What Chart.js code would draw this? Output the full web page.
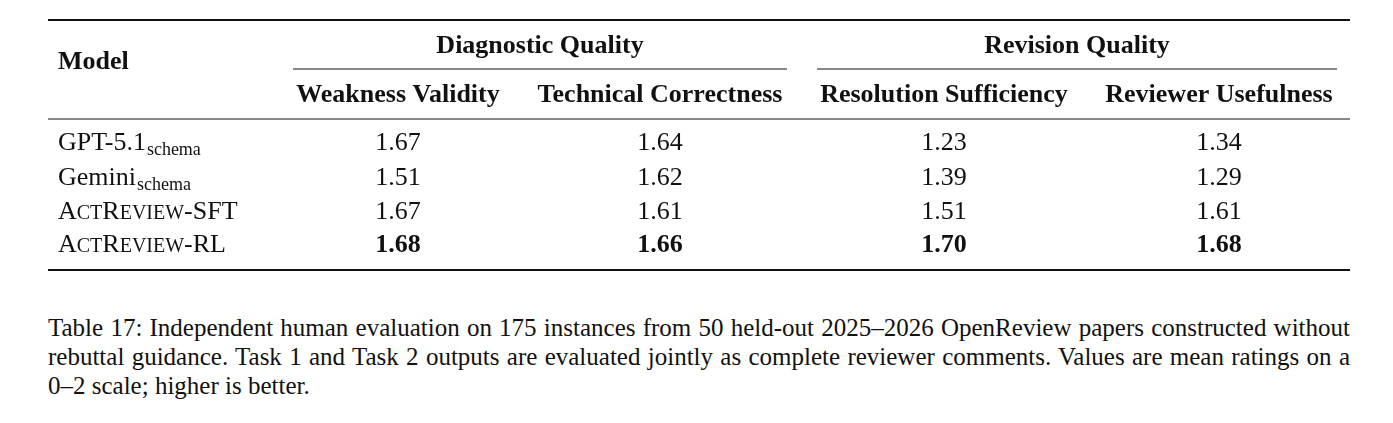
<!DOCTYPE html>
<html><head><meta charset="utf-8">
<script src="https://cdn.jsdelivr.net/npm/chart.js@4"></script>
<style>
body{margin:0;background:#fff;width:1393px;height:423px;overflow:hidden;position:relative}
#wrap{position:absolute;left:0;top:0;width:1393px;height:290px}
#cap{position:absolute;left:48px;top:313px;width:1302px;font:25px "Liberation Serif",serif;line-height:29px;text-align:justify;color:#111}
</style></head><body>
<div id="wrap"><canvas id="c"></canvas></div>
<div id="cap">Table 17: Independent human evaluation on 175 instances from 50 held-out 2025–2026 OpenReview papers constructed without rebuttal guidance. Task 1 and Task 2 outputs are evaluated jointly as complete reviewer comments. Values are mean ratings on a 0–2 scale; higher is better.</div>
<script>
// table content
const groups = ['Diagnostic Quality', 'Revision Quality'];
const columns = ['Weakness Validity', 'Technical Correctness', 'Resolution Sufficiency', 'Reviewer Usefulness'];
const models = ['GPT-5.1|schema', 'Gemini|schema', 'ACTREVIEW-SFT', 'ACTREVIEW-RL'];
const weaknessValidity = [1.67, 1.51, 1.67, 1.68];
const technicalCorrectness = [1.64, 1.62, 1.61, 1.66];
const resolutionSufficiency = [1.23, 1.39, 1.51, 1.70];
const reviewerUsefulness = [1.34, 1.29, 1.61, 1.68];
const series = [weaknessValidity, technicalCorrectness, resolutionSufficiency, reviewerUsefulness];

// layout (pixel units of the hidden linear scales)
const colX = [398, 660, 944, 1219];
const rowY = [143, 178, 212, 245];
const F = '"Liberation Serif", serif';
const FS = 26;

function best(vals) { return Math.max(...vals); }

function drawModel(ctx, name, x, y) {
  ctx.textAlign = 'left';
  if (name.includes('|')) {
    const [a, sub] = name.split('|');
    ctx.font = FS + 'px ' + F;
    ctx.fillText(a, x, y);
    const w = ctx.measureText(a).width;
    ctx.font = '18px ' + F;
    ctx.fillText(sub, x + w + 1, y + 7);
    return;
  }
  // small caps for ActReview
  const parts = [['A', 1], ['CT', 0], ['R', 1], ['EVIEW', 0], [name.slice(9), 1]];
  let cx = x;
  parts.forEach(([t, big]) => {
    ctx.font = (big ? FS + 'px ' : '20px ') + F;
    ctx.fillText(t, cx, y + (big ? 0 : 1.5));
    cx += ctx.measureText(t).width;
  });
}

const tablePlugin = {
  id: 'table',
  afterDraw(chart) {
    const ctx = chart.ctx, xs = chart.scales.x, ys = chart.scales.y;
    const X = v => xs.getPixelForValue(v), Y = v => ys.getPixelForValue(v);
    ctx.save();
    ctx.fillStyle = '#111'; ctx.strokeStyle = '#111';
    ctx.textBaseline = 'middle';
    const rule = (x1, x2, y, w) => { ctx.lineWidth = w; ctx.beginPath(); ctx.moveTo(X(x1), Y(y)); ctx.lineTo(X(x2), Y(y)); ctx.stroke(); };
    rule(48, 1350, 20, 2);
    rule(293, 787, 69, 1);
    rule(817, 1337, 69, 1);
    rule(48, 1350, 119, 1.2);
    rule(48, 1350, 270, 2);

    ctx.font = 'bold ' + FS + 'px ' + F;
    ctx.textAlign = 'left';
    ctx.fillText('Model', X(58), Y(62));
    ctx.textAlign = 'center';
    ctx.fillText(groups[0], X(540), Y(46));
    ctx.fillText(groups[1], X(1077), Y(46));
    columns.forEach((c, i) => ctx.fillText(c, X(colX[i]), Y(95)));

    models.forEach((m, r) => {
      drawModel(ctx, m, X(58), Y(rowY[r]));
      series.forEach((s, c) => {
        ctx.textAlign = 'center';
        ctx.font = (s[r] === best(s) ? 'bold ' : '') + FS + 'px ' + F;
        ctx.fillText(s[r].toFixed(2), X(colX[c]), Y(rowY[r]));
      });
    });
    ctx.restore();
  }
};

new Chart(document.getElementById('c'), {
  type: 'scatter',
  data: { datasets: [{ data: [], pointRadius: 0 }] },
  options: {
    responsive: true, maintainAspectRatio: false, animation: false,
    layout: { padding: 0 },
    plugins: { legend: { display: false }, tooltip: { enabled: false } },
    scales: {
      x: { type: 'linear', min: 0, max: 1393, display: false },
      y: { type: 'linear', min: 0, max: 290, reverse: true, display: false }
    }
  },
  plugins: [tablePlugin]
});
</script>
</body></html>
